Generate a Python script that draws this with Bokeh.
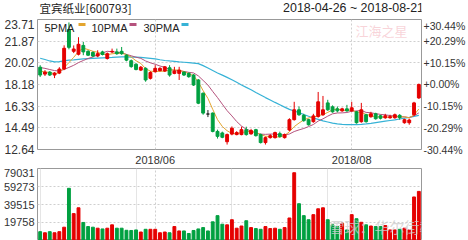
from bokeh.plotting import figure
from bokeh.layouts import column
from bokeh.models import (ColumnDataSource, FixedTicker, LinearAxis, Label,
                          BoxAnnotation, Range1d, Grid)
from bokeh.embed import file_html
from bokeh.resources import INLINE

title_text = "宜宾纸业[600793]"
period_text = "2018-04-26 ~ 2018-08-21"

opens = [19.65, 19.06, 19.23, 18.98, 19.15, 19.50, 22.86, 21.00, 20.75, 21.50,
         21.00, 20.90, 20.60, 20.95, 20.39, 20.95, 20.95, 21.00, 20.67, 20.20,
         19.90, 19.40, 19.55, 18.70, 19.26, 19.35, 19.32, 19.60, 19.12, 19.12,
         19.23, 19.12, 18.98, 18.56, 17.43, 15.66, 15.74, 14.18, 14.05, 13.30,
         13.95, 13.91, 13.91, 14.33, 13.97, 14.33, 13.91, 13.23, 13.65, 13.65,
         13.99, 13.65, 14.30, 15.18, 16.02, 15.55, 15.18, 15.01, 15.45, 15.60,
         16.61, 16.27, 16.10, 15.93, 16.10, 15.93, 15.85, 15.01, 15.60, 15.43,
         15.68, 15.51, 15.34, 15.34, 15.34, 15.55, 14.92, 14.92, 15.60, 17.03]
highs = [19.82, 19.40, 19.32, 19.23, 19.65, 21.51, 23.46, 21.50, 22.20, 21.80,
         21.10, 21.00, 21.09, 21.05, 20.90, 21.23, 21.23, 21.37, 20.75, 20.30,
         20.00, 19.75, 19.65, 19.30, 19.82, 19.65, 19.75, 19.82, 19.68, 19.68,
         19.30, 19.20, 19.06, 18.64, 17.50, 16.00, 15.80, 14.33, 14.16, 14.00,
         14.60, 14.20, 14.58, 14.58, 14.40, 14.40, 14.00, 13.74, 13.95, 14.16,
         14.16, 14.00, 15.30, 16.70, 16.30, 15.68, 15.26, 15.68, 17.54, 17.20,
         16.87, 16.40, 16.30, 16.20, 16.44, 16.70, 15.93, 16.61, 15.68, 15.85,
         15.77, 15.60, 15.68, 15.60, 15.70, 15.65, 15.26, 15.26, 16.70, 18.25]
lows = [18.81, 18.90, 18.90, 18.72, 19.06, 19.40, 21.17, 20.85, 20.65, 20.67,
        20.60, 20.50, 20.50, 20.65, 20.30, 20.85, 20.70, 20.70, 20.15, 19.60,
        19.38, 19.32, 18.41, 18.60, 19.20, 19.30, 19.25, 18.84, 19.05, 18.56,
        18.90, 18.75, 18.05, 16.50, 15.60, 15.40, 14.10, 13.57, 13.60, 13.06,
        13.85, 13.85, 13.85, 13.82, 13.90, 13.74, 13.15, 13.06, 13.57, 13.57,
        13.65, 13.57, 14.20, 15.10, 15.50, 15.00, 14.67, 14.92, 15.35, 15.50,
        15.93, 15.77, 15.80, 15.85, 15.85, 15.85, 14.84, 14.92, 14.92, 15.35,
        15.18, 15.20, 15.26, 15.26, 15.26, 15.18, 14.84, 14.75, 15.51, 16.95]
closes = [18.98, 19.23, 18.98, 19.15, 19.49, 21.26, 21.34, 21.20, 21.60, 20.95,
          20.67, 20.60, 20.80, 20.73, 20.80, 21.00, 20.80, 20.80, 20.25, 19.70,
          19.45, 19.65, 18.56, 19.20, 19.55, 19.55, 19.68, 18.98, 19.32, 19.40,
          18.98, 18.84, 18.13, 16.58, 15.74, 15.66, 14.18, 13.76, 13.68, 13.91,
          14.45, 14.08, 14.33, 13.91, 14.25, 13.82, 13.23, 13.65, 13.82, 14.08,
          13.74, 13.91, 15.18, 16.02, 15.60, 15.10, 14.75, 15.50, 16.70, 16.02,
          16.02, 15.85, 15.93, 16.10, 15.93, 16.19, 14.92, 16.02, 15.01, 15.68,
          15.26, 15.30, 15.51, 15.43, 15.60, 15.35, 15.18, 15.15, 16.61, 18.18]
volumes = [9700, 8500, 9700, 8500, 9700, 14600, 57300, 29500, 35900, 19800,
           15300, 14600, 13500, 12700, 13500, 17200, 13500, 13500, 11200, 11000,
           11600, 9300, 12300, 12300, 12300, 8500, 9300, 8500, 15300, 10500,
           10500, 7700, 11000, 12700, 14200, 10500, 20500, 27300, 17900, 17200,
           22800, 13500, 15900, 21700, 14200, 13100, 12300, 15300, 13100, 13500,
           12300, 14200, 24700, 74400, 40400, 27300, 22800, 28400, 34800, 35900,
           22800, 17200, 15300, 18900, 11600, 28400, 23900, 20000, 17200, 15900,
           15300, 15300, 16400, 11600, 11600, 12300, 13500, 11600, 47800, 53900]
ma5 = [19.30, 19.25, 19.20, 19.10, 19.17, 19.62, 20.04, 20.49, 20.98, 21.27,
       21.15, 21.00, 20.92, 20.75, 20.72, 20.79, 20.83, 20.83, 20.73, 20.51,
       20.20, 19.97, 19.52, 19.31, 19.28, 19.30, 19.31, 19.39, 19.42, 19.39,
       19.27, 19.10, 18.93, 18.39, 17.65, 16.99, 16.06, 15.18, 14.60, 14.24,
       14.00, 13.98, 14.09, 14.14, 14.20, 14.08, 13.91, 13.77, 13.75, 13.72,
       13.70, 13.84, 14.15, 14.59, 14.89, 15.16, 15.33, 15.39, 15.53, 15.61,
       15.80, 16.02, 16.10, 15.98, 15.97, 16.00, 15.81, 15.83, 15.61, 15.56,
       15.38, 15.45, 15.35, 15.44, 15.42, 15.44, 15.41, 15.34, 15.58, 16.09]
ma10 = [19.62, 19.55, 19.45, 19.36, 19.32, 19.46, 19.63, 19.81, 20.04, 20.22,
        20.39, 20.52, 20.71, 20.87, 21.00, 20.97, 20.92, 20.88, 20.74, 20.62,
        20.50, 20.40, 20.18, 20.02, 19.90, 19.75, 19.64, 19.46, 19.37, 19.34,
        19.29, 19.21, 19.16, 18.91, 18.52, 18.13, 17.58, 17.06, 16.50, 15.95,
        15.50, 15.02, 14.64, 14.37, 14.22, 14.04, 13.95, 13.93, 13.95, 13.96,
        13.89, 13.88, 13.96, 14.17, 14.31, 14.43, 14.59, 14.77, 15.06, 15.25,
        15.48, 15.68, 15.75, 15.76, 15.79, 15.90, 15.92, 15.97, 15.80, 15.77,
        15.69, 15.63, 15.59, 15.53, 15.49, 15.41, 15.43, 15.35, 15.51, 15.76]
ma30 = [20.41, 20.30, 20.18, 20.10, 20.12, 20.18, 20.25, 20.28, 20.32, 20.36,
        20.38, 20.40, 20.42, 20.44, 20.46, 20.48, 20.51, 20.52, 20.52, 20.51,
        20.50, 20.48, 20.45, 20.40, 20.35, 20.28, 20.22, 20.18, 20.15, 20.10,
        20.07, 20.04, 20.00, 19.95, 19.78, 19.58, 19.37, 19.16, 18.97, 18.78,
        18.58, 18.36, 18.14, 17.93, 17.73, 17.50, 17.28, 17.06, 16.86, 16.65,
        16.45, 16.25, 16.06, 15.92, 15.78, 15.62, 15.47, 15.32, 15.20, 15.08,
        14.98, 14.88, 14.82, 14.78, 14.76, 14.75, 14.76, 14.78, 14.82, 14.87,
        14.93, 14.99, 15.05, 15.11, 15.17, 15.24, 15.31, 15.38, 15.46, 15.55]

price_ticks = [12.64, 14.49, 16.33, 18.18, 20.02, 21.87, 23.71]
price_tick_labels = ["12.64", "14.49", "16.33", "18.18", "20.02", "21.87", "23.71"]
pct_tick_labels = ["-30.44%", "-20.29%", "-10.15%", "+0.00%", "+10.15%", "+20.29%", "+30.44%"]
vol_ticks = [19758, 39515, 59273, 79031]
vol_tick_labels = ["19758", "39515", "59273", "79031"]
date_ticks = [24, 65]
date_tick_labels = ["2018/06", "2018/08"]
legend_names = ["5PMA", "10PMA", "30PMA"]

UP, DOWN, DOJI = "#e50000", "#00a040", "#222222"
MA_COLORS = ["#e3a52f", "#b5527d", "#36b2d6"]
FONT = "Liberation Sans"
TXT = "#333333"

n = len(closes)
xs = list(range(n))
ccol = [UP if c > o else (DOWN if c < o else DOJI) for o, c in zip(opens, closes)]
vcol = [UP if c > o else DOWN for o, c in zip(opens, closes)]
src = ColumnDataSource(dict(
    x=xs, high=highs, low=lows,
    top=[max(o, c) for o, c in zip(opens, closes)],
    bot=[min(o, c) for o, c in zip(opens, closes)],
    col=ccol, vol=volumes, vcol=vcol,
    ma5=ma5, ma10=ma10, ma30=ma30))

x_lo, x_hi = -0.556, n - 1 + 0.556


def style_axis(ax, size):
    ax.axis_line_color = None
    ax.major_tick_line_color = None
    ax.minor_tick_line_color = None
    ax.major_tick_in = 0
    ax.major_tick_out = 0
    ax.major_label_text_font = FONT
    ax.major_label_text_font_size = size
    ax.major_label_text_color = TXT


# ---------------- header strip (titles) ----------------
p0 = figure(width=468, height=19, output_backend="svg", toolbar_location=None,
            x_range=Range1d(0, 468), y_range=Range1d(0, 19),
            x_axis_location=None, y_axis_location=None,
            min_border_left=35, min_border_right=44, min_border_top=0, min_border_bottom=0)
p0.outline_line_color = None
p0.grid.visible = False
p0.background_fill_color = "white"
p0.border_fill_color = "white"
p0.add_layout(Label(x=2, y=11.5, x_units="screen", y_units="screen", text=title_text,
                    text_font="Noto Sans CJK SC", text_font_size="11.5px", text_color="#222222",
                    text_baseline="middle"))
p0.add_layout(Label(x=386.5, y=11.5, x_units="screen", y_units="screen", text=period_text,
                    text_font=FONT, text_font_size="12.4px", text_color="#222222",
                    text_baseline="middle", text_align="right"))

# ---------------- price panel ----------------
p1 = figure(width=468, height=149, output_backend="svg", toolbar_location=None,
            x_range=Range1d(x_lo, x_hi), y_range=Range1d(price_ticks[0], price_ticks[-1]),
            min_border_left=35, min_border_right=44, min_border_top=0, min_border_bottom=18)
p1.outline_line_color = "#999999"
p1.background_fill_color = "white"
p1.border_fill_color = "white"

p1.xaxis.ticker = FixedTicker(ticks=date_ticks)
p1.xaxis.major_label_overrides = dict(zip(date_ticks, date_tick_labels))
p1.xaxis.major_label_standoff = 4
style_axis(p1.xaxis[0], "11px")
p1.yaxis.ticker = FixedTicker(ticks=price_ticks)
p1.yaxis.major_label_overrides = dict(zip(price_ticks, price_tick_labels))
p1.yaxis.major_label_standoff = 3
style_axis(p1.yaxis[0], "12px")
p1.xgrid.ticker = FixedTicker(ticks=date_ticks)
p1.ygrid.ticker = FixedTicker(ticks=price_ticks)
for g in (p1.xgrid[0], p1.ygrid[0]):
    g.grid_line_color = "#cfcfcf"
    g.grid_line_dash = "2 2"

rax = LinearAxis(ticker=FixedTicker(ticks=price_ticks),
                 major_label_overrides=dict(zip(price_ticks, pct_tick_labels)),
                 major_label_standoff=2)
style_axis(rax, "10.5px")
p1.add_layout(rax, "right")

p1.line("x", "ma30", source=src, color=MA_COLORS[2], line_width=1.2)
p1.line("x", "ma10", source=src, color=MA_COLORS[1], line_width=1)
p1.line("x", "ma5", source=src, color=MA_COLORS[0], line_width=1)
p1.segment("x", "high", "x", "low", source=src, color="col", line_width=1)
p1.vbar(x="x", width=0.6, top="top", bottom="bot", source=src,
        fill_color="col", line_color="col", line_width=1)

# legend (text followed by swatch)
leg_text_x = [7, 54, 106]
leg_box_x = [41, 92, 144]
for name, tx, bx, c in zip(legend_names, leg_text_x, leg_box_x, MA_COLORS):
    p1.add_layout(Label(x=tx, y=122, x_units="screen", y_units="screen", text=name,
                        text_font=FONT, text_font_size="11px", text_color="#222222",
                        text_baseline="middle"))
    p1.add_layout(BoxAnnotation(left=bx, right=bx + 7, bottom=123.5, top=126.5,
                                left_units="screen", right_units="screen",
                                bottom_units="screen", top_units="screen",
                                fill_color=c, fill_alpha=1, line_color=None))

p1.add_layout(Label(x=318, y=119, x_units="screen", y_units="screen", text="江海之星",
                    text_font="Noto Sans CJK SC", text_font_size="13px", text_color="#f2a9b4",
                    text_alpha=0.5, text_baseline="middle"))

# ---------------- volume panel ----------------
p2 = figure(width=468, height=72, output_backend="svg", toolbar_location=None,
            x_range=p1.x_range, y_range=Range1d(0, vol_ticks[-1]),
            x_axis_location=None,
            min_border_left=35, min_border_right=44, min_border_top=0, min_border_bottom=0)
p2.outline_line_color = "#999999"
p2.background_fill_color = "white"
p2.border_fill_color = "white"
p2.yaxis.ticker = FixedTicker(ticks=vol_ticks)
p2.yaxis.major_label_overrides = dict(zip(vol_ticks, vol_tick_labels))
p2.yaxis.major_label_standoff = 3
style_axis(p2.yaxis[0], "11px")
p2.ygrid.ticker = FixedTicker(ticks=vol_ticks)
p2.ygrid.grid_line_color = "#cfcfcf"
p2.ygrid.grid_line_dash = "2 2"
p2.add_layout(Grid(dimension=0, ticker=FixedTicker(ticks=date_ticks),
                   grid_line_color="#cfcfcf", grid_line_dash="2 2"))

p2.vbar(x="x", width=0.6, top="vol", bottom=0, source=src,
        fill_color="vcol", line_color="vcol", line_width=1)
p2.add_layout(Label(x=292, y=14, x_units="screen", y_units="screen", text="雪球：华尔街教父",
                    text_font="Noto Sans CJK SC", text_font_size="15px", text_color="#cccccc",
                    text_alpha=0.75, text_baseline="middle"))

layout = column(p0, p1, p2, spacing=0)
open("out.html", "w").write(file_html(layout, INLINE))
